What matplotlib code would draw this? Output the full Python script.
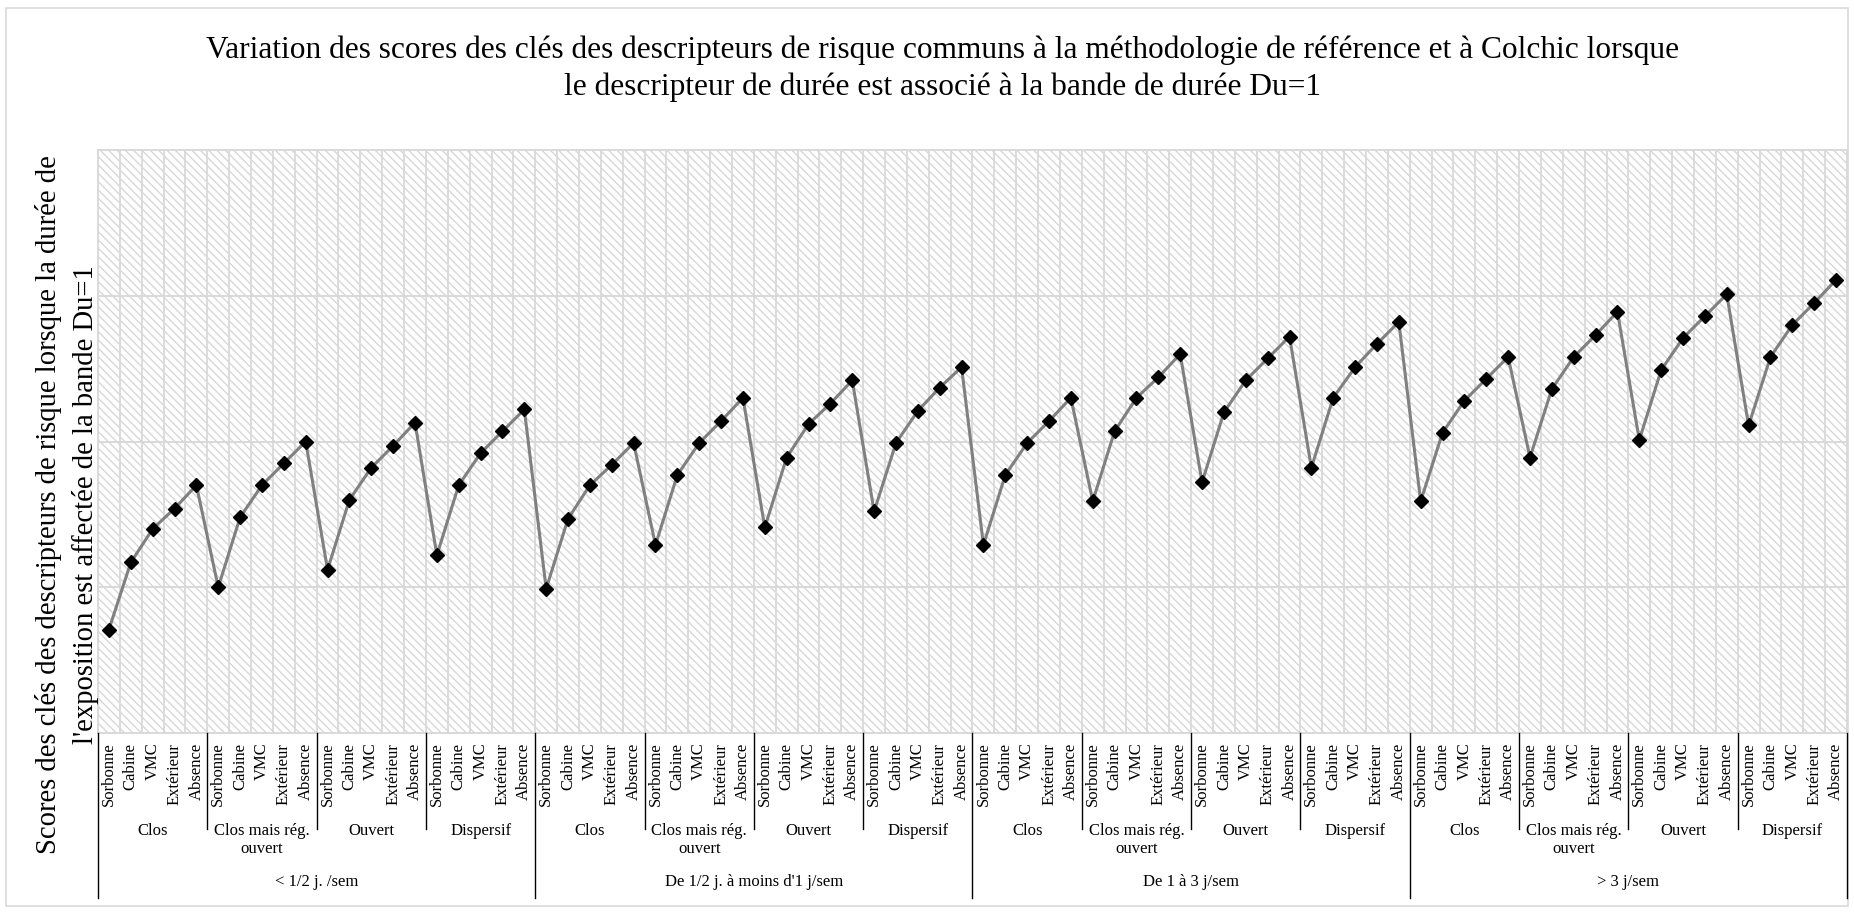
import matplotlib
matplotlib.use('Agg')
import matplotlib.pyplot as plt
from matplotlib.patches import Rectangle
from matplotlib.lines import Line2D
from matplotlib.transforms import blended_transform_factory

plt.rcParams['font.family'] = ['Liberation Serif', 'DejaVu Serif']
plt.rcParams['hatch.linewidth'] = 0.9

# categories of the three-level axis
ventilation = ['Sorbonne', 'Cabine', 'VMC', 'Extérieur', 'Absence']
emission = ['Clos', 'Clos mais rég.\nouvert', 'Ouvert', 'Dispersif']
durees = ['< 1/2 j. /sem', "De 1/2 j. à moins d'1 j/sem", 'De 1 à 3 j/sem', '> 3 j/sem']

# scores for each frequency band (Clos, Clos mais rég. ouvert, Ouvert, Dispersif x 5 ventilations)
score_lt_half = [0.71, 1.17, 1.40, 1.54, 1.70, 1.00, 1.48, 1.70, 1.85, 2.00,
                 1.12, 1.60, 1.82, 1.97, 2.13, 1.22, 1.70, 1.92, 2.07, 2.22]
score_half_to_1 = [0.99, 1.47, 1.70, 1.84, 1.99, 1.29, 1.77, 1.99, 2.14, 2.30,
                   1.41, 1.89, 2.12, 2.26, 2.42, 1.52, 1.99, 2.21, 2.37, 2.51]
score_1_to_3 = [1.29, 1.77, 1.99, 2.14, 2.30, 1.59, 2.07, 2.30, 2.44, 2.60,
                1.72, 2.20, 2.42, 2.57, 2.72, 1.82, 2.30, 2.51, 2.67, 2.82]
score_gt_3 = [1.59, 2.06, 2.28, 2.43, 2.58, 1.89, 2.36, 2.58, 2.73, 2.89,
              2.01, 2.49, 2.71, 2.86, 3.01, 2.11, 2.58, 2.80, 2.95, 3.11]

scores = score_lt_half + score_half_to_1 + score_1_to_3 + score_gt_3
n = len(scores)
x = list(range(n))
W, H = 1854, 913

fig = plt.figure(figsize=(W / 100, H / 100), dpi=100)
ax = fig.add_axes([98 / W, 1 - 733 / H, (1847 - 98) / W, (733 - 150) / H])

# hatched plot background
ax.add_patch(Rectangle((0, 0), 1, 1, transform=ax.transAxes, facecolor='white',
                       edgecolor='#d4d4d4', lw=0, hatch='\\\\\\\\', zorder=0))
ax.set_xlim(-0.5, n - 0.5)
ax.set_ylim(0, 4)
for xv in [i + 0.5 for i in range(n - 1)]:
    ax.axvline(xv, color='#d9d9d9', lw=1.3, zorder=1)
for yv in [1, 2, 3]:
    ax.axhline(yv, color='#d9d9d9', lw=1.4, zorder=1)
for s in ax.spines.values():
    s.set_color('#d9d9d9')
    s.set_linewidth(1.4)

ax.plot(x, scores, color='#808080', lw=2.2, marker='D', ms=7,
        markerfacecolor='black', markeredgecolor='black', zorder=3)

ax.set_yticks([])
ax.set_xticks(x)
ax.set_xticklabels(ventilation * (n // 5), rotation=90, fontsize=12)
ax.tick_params(axis='x', length=0, pad=7)

# group labels and separators under the axis
tr = blended_transform_factory(ax.transData, fig.transFigure)
def fy(px):
    return 1 - px / H

for d, dur in enumerate(durees):
    for e, em in enumerate(emission):
        start = d * 20 + e * 5
        ax.text(start + 2, fy(823), em, transform=tr, ha='center', va='top',
                fontsize=12, linespacing=1.15)
        if e > 0:
            fig.add_artist(Line2D([start - 0.5] * 2, [fy(733), fy(829)],
                                  transform=tr, color='black', lw=1.0))
    ax.text(d * 20 + 9.5, fy(882), dur, transform=tr, ha='center', va='center',
            fontsize=12)
for b in range(0, n + 1, 20):
    fig.add_artist(Line2D([b - 0.5] * 2, [fy(733), fy(898)],
                          transform=tr, color='black', lw=1.0))

fig.text(943 / W, fy(69),
         'Variation des scores des clés des descripteurs de risque communs à la méthodologie de référence et à Colchic lorsque\n'
         'le descripteur de durée est associé à la bande de durée Du=1',
         ha='center', va='center', fontsize=22.6, linespacing=1.35)
fig.text(67 / W, fy(505),
         "Scores des clés des descripteurs de risque lorsque la durée de\n"
         "l'exposition est affectée de la bande Du=1",
         ha='center', va='center', rotation=90, fontsize=20.6, linespacing=1.5)

# outer chart frame
fig.add_artist(Rectangle((6 / W, fy(906)), (1848 - 6) / W, (906 - 8) / H,
                         transform=fig.transFigure, fill=False,
                         edgecolor='#d9d9d9', lw=1.2))

fig.savefig('out.png', dpi=100)
